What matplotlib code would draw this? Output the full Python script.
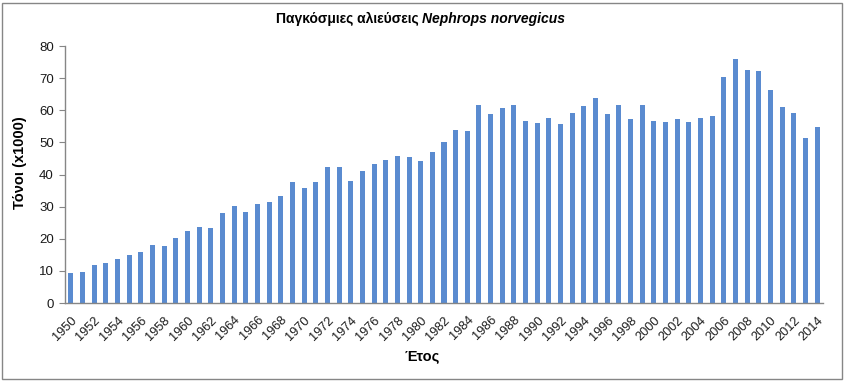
import matplotlib
matplotlib.use("Agg")
import matplotlib.pyplot as plt
from matplotlib.patches import Rectangle
from matplotlib.transforms import ScaledTranslation

years = list(range(1950, 2015))
catch = [9.4, 9.8, 11.7, 12.3, 13.6, 14.8, 15.8, 18.1, 17.6, 20.3,
         22.3, 23.8, 23.5, 27.9, 30.1, 28.4, 30.7, 31.3, 33.2, 37.7,
         35.9, 37.7, 42.2, 42.2, 38.0, 41.1, 43.3, 44.6, 45.8, 45.5,
         44.2, 47.0, 50.2, 53.9, 53.6, 61.7, 58.9, 60.7, 61.7, 56.7,
         56.1, 57.6, 55.8, 59.2, 61.3, 63.8, 58.9, 61.7, 57.3, 61.7,
         56.7, 56.4, 57.3, 56.4, 57.6, 58.2, 70.4, 76.0, 72.5, 72.2,
         66.3, 61.0, 59.2, 51.4, 54.8]
yticks = [0, 10, 20, 30, 40, 50, 60, 70, 80]
title_main = "Παγκόσμιες αλιεύσεις "
title_species = "Nephrops norvegicus"
ylabel = "Τόνοι (x1000)"
xlabel = "Έτος"

plt.rcParams['font.family'] = ['Liberation Sans', 'DejaVu Sans']

fig = plt.figure(figsize=(8.45, 3.81), dpi=100)
ax = fig.add_axes([65/845, 1-303/381, 758/845, 257/381])

x = list(range(len(years)))
ax.bar(x, catch, width=0.43, color='#5A8BD0', zorder=2)
ax.set_xlim(-0.5, len(years) - 0.5)
ax.set_ylim(0, 80)
ax.set_yticks(yticks)
ax.set_yticklabels([str(v) for v in yticks], fontsize=9.5, color='#1a1a1a')
ax.set_xticks(x[::2])
ax.set_xticklabels([str(y) for y in years[::2]], rotation=45, ha='right',
                   rotation_mode='anchor', fontsize=9.2, color='#1a1a1a')
offset = ScaledTranslation(5/72, 0, fig.dpi_scale_trans)
for lab in ax.get_xticklabels():
    lab.set_transform(lab.get_transform() + offset)
ax.tick_params(axis='x', which='major', length=0, pad=8)
ax.tick_params(axis='y', length=4, color='#868686', pad=4)
for s in ['top', 'right']:
    ax.spines[s].set_visible(False)
for s in ['left', 'bottom']:
    ax.spines[s].set_color('#868686')
    ax.spines[s].set_linewidth(1.0)

ax.set_ylabel(ylabel, fontsize=10.5, fontweight='bold')
ax.yaxis.set_label_coords(-0.050, 0.545)
fig.text(422/845, 1-356/381, xlabel, fontsize=10.5, fontweight='bold',
         ha='center', va='center')

# Title with italic species name
t1 = fig.text(276/845, 1-19/381, title_main, fontsize=10, fontweight='bold',
              ha='left', va='center')
ax.annotate(title_species, xy=(1, 0), xycoords=t1, va='bottom', ha='left',
            fontsize=10, fontweight='bold', fontstyle='italic')

fig.patches.append(Rectangle((2/845, 2/381), 840/845, 376/381, transform=fig.transFigure,
                             fill=False, edgecolor='#868686', linewidth=1.0))

fig.savefig('out.png', dpi=100)
